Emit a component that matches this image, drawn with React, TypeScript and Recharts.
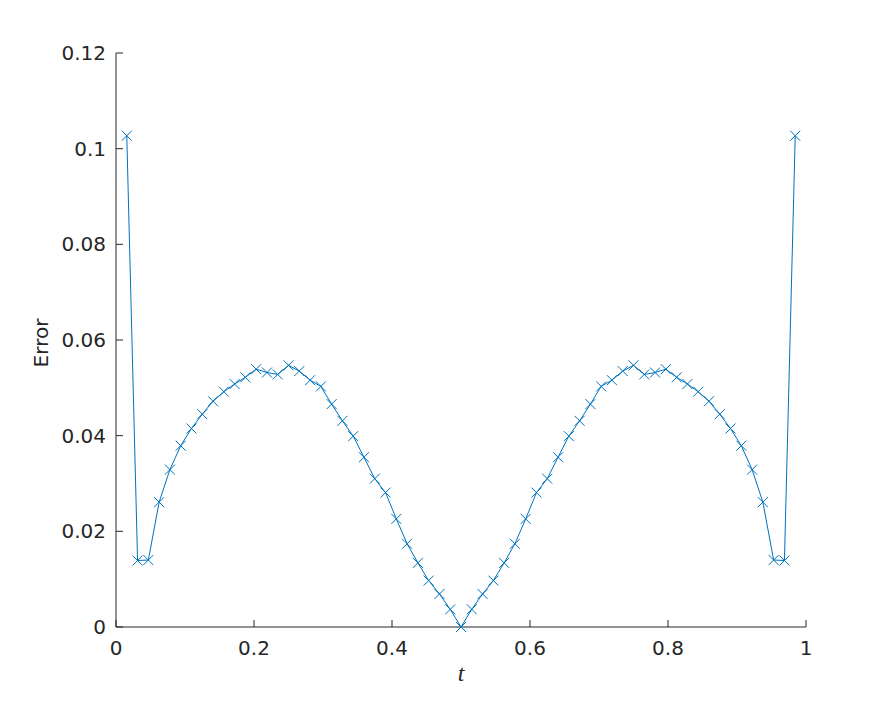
import React from "react";
import { LineChart, Line, XAxis, YAxis } from "recharts";

// sample points t = k/64, k = 1..63
const tValues = Array.from({ length: 63 }, (_, i) => (i + 1) / 64);

const errorValues = [
  0.1027, 0.0139, 0.0140, 0.0261, 0.0329, 0.0379, 0.0415, 0.0445, 0.0472, 0.0492,
  0.0508, 0.0522, 0.0539, 0.0532, 0.0528, 0.0547, 0.0535, 0.0516, 0.0503, 0.0466,
  0.0431, 0.0399, 0.0355, 0.0310, 0.0281, 0.0226, 0.0174, 0.0134, 0.0097, 0.0069,
  0.0037, 0.0000, 0.0037, 0.0069, 0.0097, 0.0134, 0.0174, 0.0226, 0.0281, 0.0310,
  0.0355, 0.0399, 0.0431, 0.0466, 0.0503, 0.0516, 0.0535, 0.0547, 0.0528, 0.0532,
  0.0539, 0.0522, 0.0508, 0.0492, 0.0472, 0.0445, 0.0415, 0.0379, 0.0329, 0.0261,
  0.0140, 0.0139, 0.1027,
];

const xTicks = [0, 0.2, 0.4, 0.6, 0.8, 1];
const yTicks = [0, 0.02, 0.04, 0.06, 0.08, 0.1, 0.12];

const data = tValues.map((t, i) => ({ t, err: errorValues[i] }));

const INK = "#262626";
const BLUE = "#0072BD";
const FONT = "DejaVu Sans, sans-serif";

function XMark(props: any) {
  const { cx, cy } = props;
  if (cx == null || cy == null) return null;
  const s = 5;
  return (
    <g stroke={BLUE} strokeWidth={1}>
      <line x1={cx - s} y1={cy - s} x2={cx + s} y2={cy + s} />
      <line x1={cx - s} y1={cy + s} x2={cx + s} y2={cy - s} />
    </g>
  );
}

function BottomTick(props: any) {
  const { x, y, payload } = props;
  return (
    <g>
      <line x1={x} y1={y} x2={x} y2={y - 7} stroke={INK} strokeWidth={1} />
      <text x={x} y={y + 28} textAnchor="middle" fill={INK} fontSize={20} fontFamily={FONT}>
        {String(payload.value)}
      </text>
    </g>
  );
}

function LeftTick(props: any) {
  const { x, y, payload } = props;
  return (
    <g>
      <line x1={x} y1={y} x2={x + 7} y2={y} stroke={INK} strokeWidth={1} />
      <text x={x - 10} y={y + 7} textAnchor="end" fill={INK} fontSize={20} fontFamily={FONT}>
        {String(payload.value)}
      </text>
    </g>
  );
}

export default function App() {
  return (
    <div style={{ position: "absolute", left: 0, top: 0, width: 891, height: 703, background: "#fff" }}>
      <LineChart
        width={891}
        height={703}
        data={data}
        margin={{ top: 53, right: 85, bottom: 36, left: 56 }}
      >
        <XAxis
          type="number"
          dataKey="t"
          domain={[0, 1]}
          ticks={xTicks}
          interval={0}
          height={40}
          tickSize={0}
          tickMargin={0}
          tickLine={false}
          axisLine={{ stroke: INK }}
          tick={<BottomTick />}
          label={{
            content: (p: any) => {
              const vb = p.viewBox;
              return (
                <text
                  x={vb.x + vb.width / 2}
                  y={vb.y + 54}
                  textAnchor="middle"
                  fill={INK}
                  fontSize={24}
                  fontStyle="italic"
                  fontFamily="Liberation Serif, serif"
                >
                  t
                </text>
              );
            },
          }}
        />
        <YAxis
          type="number"
          domain={[0, 0.12]}
          ticks={yTicks}
          interval={0}
          width={60}
          tickSize={0}
          tickMargin={0}
          tickLine={false}
          axisLine={{ stroke: INK }}
          tick={<LeftTick />}
          label={{
            content: (p: any) => {
              const vb = p.viewBox;
              const cx = 48;
              const cy = vb.y + vb.height / 2 + 3;
              return (
                <text
                  x={cx}
                  y={cy}
                  transform={`rotate(-90 ${cx} ${cy})`}
                  textAnchor="middle"
                  fill={INK}
                  fontSize={20}
                  fontFamily={FONT}
                >
                  Error
                </text>
              );
            },
          }}
        />
        <Line
          type="linear"
          dataKey="err"
          stroke={BLUE}
          strokeWidth={1}
          dot={<XMark />}
          activeDot={false}
          isAnimationActive={false}
        />
      </LineChart>
    </div>
  );
}
